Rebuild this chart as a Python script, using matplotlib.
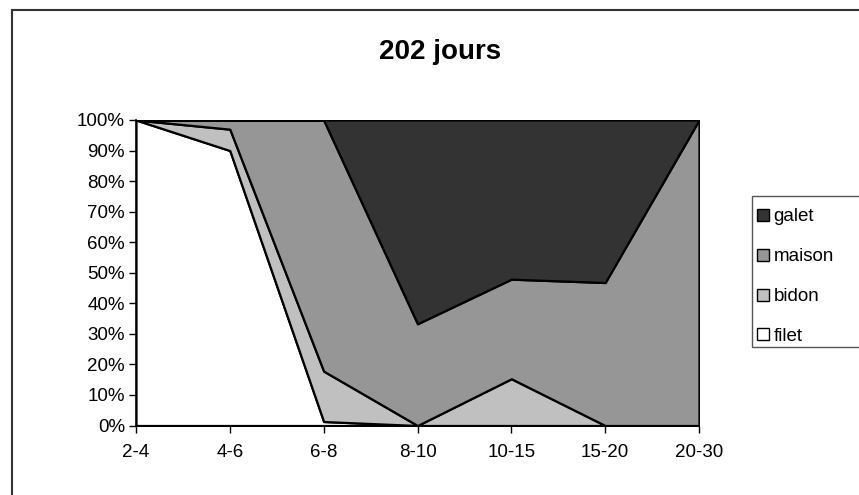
import matplotlib.pyplot as plt
from matplotlib.lines import Line2D
from matplotlib.patches import Patch, Rectangle

plt.rcParams['font.family'] = ['Liberation Sans', 'DejaVu Sans']

categories = ['2-4', '4-6', '6-8', '8-10', '10-15', '15-20', '20-30']
filet = [100, 90, 1.3, 0, 0, 0, 0]
bidon = [0, 7, 16.5, 0, 15.3, 0, 0]
maison = [0, 3, 82.2, 33.3, 32.6, 46.8, 100]
galet = [0, 0, 0, 66.7, 52.1, 53.2, 0]
names = ['filet', 'bidon', 'maison', 'galet']
colors = ['#ffffff', '#c0c0c0', '#969696', '#333333']

fig = plt.figure(figsize=(8.59, 4.95), dpi=100)
ax = fig.add_axes([136/859, 1 - 425.5/495, (699 - 136)/859, (425.5 - 120)/495])

x = list(range(len(categories)))
ax.stackplot(x, filet, bidon, maison, galet, colors=colors,
             edgecolor='black', linewidth=1.6)

ax.set_xlim(0, len(categories) - 1)
ax.set_ylim(0, 100)
ax.set_xticks(x)
ax.set_xticklabels(categories)
ax.set_yticks(range(0, 101, 10))
ax.set_yticklabels([f'{v}%' for v in range(0, 101, 10)])
ax.tick_params(labelsize=13.5, length=5, width=1, direction='out')
ax.tick_params(axis='x', pad=8)
ax.tick_params(axis='y', pad=3)
for s in ['top', 'right']:
    ax.spines[s].set_visible(False)
for s in ['left', 'bottom']:
    ax.spines[s].set_linewidth(1.2)
ax.set_zorder(2)

fig.text(440/859, 1 - 52/495, '202 jours', ha='center', va='center',
         fontsize=20, fontweight='bold')

handles = [Patch(facecolor=colors[i], edgecolor='black', linewidth=1)
           for i in [3, 2, 1, 0]]
labels = [names[i] for i in [3, 2, 1, 0]]
leg = fig.legend(handles, labels, loc='upper left',
                 bbox_to_anchor=(749/859, 1 - 200/495), fontsize=13.5,
                 frameon=False, handlelength=0.6,
                 handleheight=0.6, handletextpad=0.25, labelspacing=1.22,
                 borderpad=0.45, borderaxespad=0)

# legend box, its right side runs past the edge of the picture
fig.add_artist(Rectangle((752/859, 1 - 347/495), 130/859, 151/495,
                         facecolor='none', edgecolor='#555555', linewidth=1,
                         transform=fig.transFigure))

# outer chart border (left and top visible)
fig.add_artist(Line2D([12/859, 12/859], [0, 1 - 10/495], color='#333333',
                      linewidth=1.5, transform=fig.transFigure))
fig.add_artist(Line2D([12/859, 1], [1 - 10/495, 1 - 10/495], color='#333333',
                      linewidth=1.5, transform=fig.transFigure))

fig.savefig('out.png', dpi=100)
